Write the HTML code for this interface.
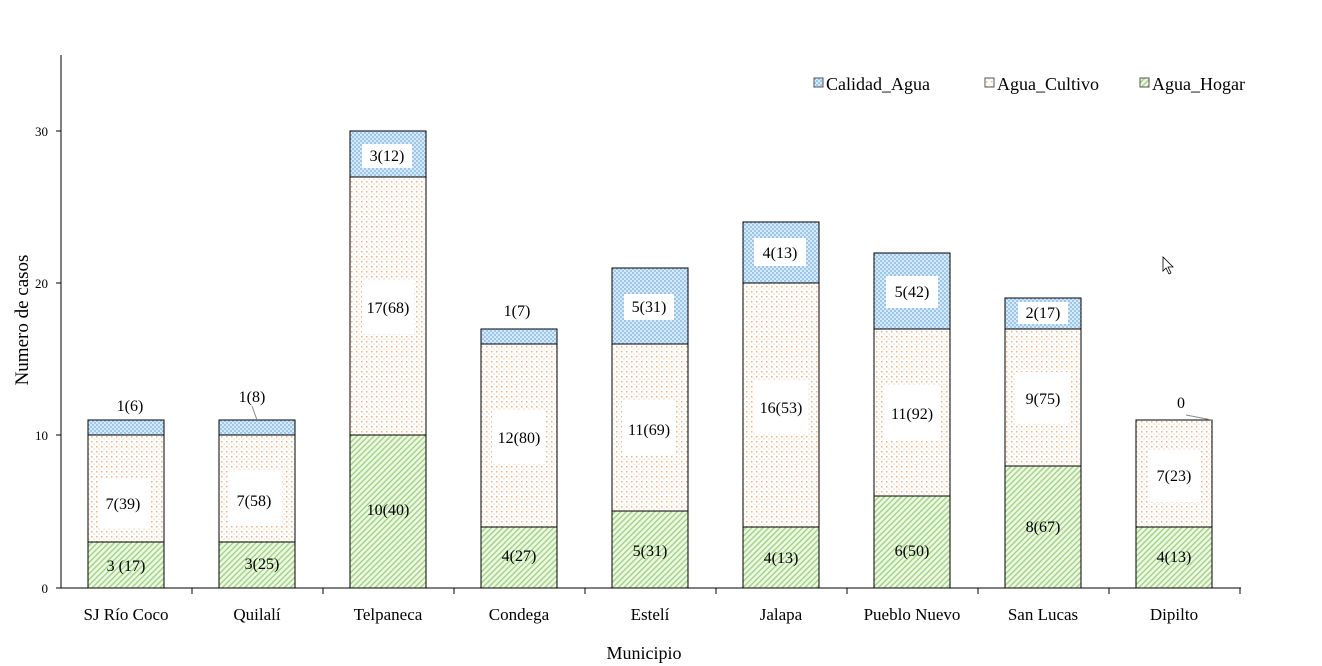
<!DOCTYPE html><html><head><style>body{margin:0;background:#fff}svg{display:block}text{font-family:"Liberation Serif",serif}</style></head><body>
<svg width="1322" height="666" viewBox="0 0 1322 666">
<defs>
<pattern id="pb" width="4" height="4" patternUnits="userSpaceOnUse"><rect width="4" height="4" fill="#d6eafa"/><rect width="2" height="2" fill="#9cc6ec"/><rect x="2" y="2" width="2" height="2" fill="#9cc6ec"/></pattern>
<pattern id="po" width="5" height="5" patternUnits="userSpaceOnUse"><rect width="5" height="5" fill="#fff"/><rect x="1" y="1" width="1.5" height="1.5" fill="#f4b080"/><rect x="3.5" y="3.5" width="1.2" height="1.2" fill="#f9d0b0"/></pattern>
<pattern id="pg" width="4" height="4" patternUnits="userSpaceOnUse" patternTransform="rotate(45)"><rect width="4" height="4" fill="#eef8e4"/><rect width="1.4" height="4" fill="#9fd483"/></pattern>
</defs>
<g stroke="#000" stroke-width="1">
<line x1="61" y1="55" x2="61" y2="588"/>
<line x1="61" y1="588" x2="1241" y2="588"/>
<line x1="56" y1="588" x2="61" y2="588"/><line x1="56" y1="435" x2="61" y2="435"/><line x1="56" y1="283" x2="61" y2="283"/><line x1="56" y1="131" x2="61" y2="131"/>
<line x1="192" y1="588" x2="192" y2="594"/><line x1="323" y1="588" x2="323" y2="594"/><line x1="454" y1="588" x2="454" y2="594"/><line x1="585" y1="588" x2="585" y2="594"/><line x1="716" y1="588" x2="716" y2="594"/><line x1="847" y1="588" x2="847" y2="594"/><line x1="978" y1="588" x2="978" y2="594"/><line x1="1109" y1="588" x2="1109" y2="594"/><line x1="1240" y1="588" x2="1240" y2="594"/>
</g>
<g font-size="13" text-anchor="end"><text x="48" y="593">0</text><text x="48" y="440">10</text><text x="48" y="288">20</text><text x="48" y="136">30</text></g>
<text transform="translate(28,320) rotate(-90)" font-size="19" text-anchor="middle">Numero de casos</text>
<text x="644" y="659" font-size="18" text-anchor="middle">Municipio</text>
<g font-size="17" text-anchor="middle">
<text x="126" y="620">SJ Río Coco</text><text x="257" y="620">Quilalí</text><text x="388" y="620">Telpaneca</text><text x="519" y="620">Condega</text><text x="650" y="620">Estelí</text><text x="781" y="620">Jalapa</text><text x="912" y="620">Pueblo Nuevo</text><text x="1043" y="620">San Lucas</text><text x="1174" y="620">Dipilto</text>
</g>
<g stroke="#000" stroke-width="1">
<rect x="88" y="542" width="76" height="46" fill="url(#pg)"/><rect x="88" y="435" width="76" height="107" fill="url(#po)"/><rect x="88" y="420" width="76" height="15" fill="url(#pb)"/>
<rect x="219" y="542" width="76" height="46" fill="url(#pg)"/><rect x="219" y="435" width="76" height="107" fill="url(#po)"/><rect x="219" y="420" width="76" height="15" fill="url(#pb)"/>
<rect x="350" y="435" width="76" height="153" fill="url(#pg)"/><rect x="350" y="177" width="76" height="258" fill="url(#po)"/><rect x="350" y="131" width="76" height="46" fill="url(#pb)"/>
<rect x="481" y="527" width="76" height="61" fill="url(#pg)"/><rect x="481" y="344" width="76" height="183" fill="url(#po)"/><rect x="481" y="329" width="76" height="15" fill="url(#pb)"/>
<rect x="612" y="511" width="76" height="77" fill="url(#pg)"/><rect x="612" y="344" width="76" height="167" fill="url(#po)"/><rect x="612" y="268" width="76" height="76" fill="url(#pb)"/>
<rect x="743" y="527" width="76" height="61" fill="url(#pg)"/><rect x="743" y="283" width="76" height="244" fill="url(#po)"/><rect x="743" y="222" width="76" height="61" fill="url(#pb)"/>
<rect x="874" y="496" width="76" height="92" fill="url(#pg)"/><rect x="874" y="329" width="76" height="167" fill="url(#po)"/><rect x="874" y="253" width="76" height="76" fill="url(#pb)"/>
<rect x="1005" y="466" width="76" height="122" fill="url(#pg)"/><rect x="1005" y="329" width="76" height="137" fill="url(#po)"/><rect x="1005" y="298" width="76" height="31" fill="url(#pb)"/>
<rect x="1136" y="527" width="76" height="61" fill="url(#pg)"/><rect x="1136" y="420" width="76" height="107" fill="url(#po)"/>
</g>
<g stroke="#888" fill="none"><line x1="252" y1="406" x2="257" y2="420"/><line x1="1186" y1="415" x2="1212" y2="420"/></g>
<g fill="#fff">
<rect x="98" y="478" width="52" height="50"/><rect x="228" y="470" width="54" height="56"/>
<rect x="362" y="280" width="52" height="54"/><rect x="492" y="410" width="54" height="54"/><rect x="622" y="400" width="54" height="56"/><rect x="754" y="380" width="54" height="54"/><rect x="884" y="386" width="56" height="54"/><rect x="1016" y="372" width="54" height="52"/><rect x="1148" y="450" width="52" height="52"/>
<rect x="362" y="144" width="50" height="24"/><rect x="624" y="294" width="50" height="26"/><rect x="754" y="238" width="52" height="28"/><rect x="886" y="276" width="52" height="32"/><rect x="1018" y="302" width="50" height="22"/>
</g>
<g font-size="16" text-anchor="middle">
<text x="126" y="571">3 (17)</text><text x="123" y="509">7(39)</text><text x="130" y="411">1(6)</text>
<text x="262" y="569">3(25)</text><text x="254" y="506">7(58)</text><text x="252" y="402">1(8)</text>
<text x="388" y="515">10(40)</text><text x="388" y="313">17(68)</text><text x="387" y="161">3(12)</text>
<text x="519" y="561">4(27)</text><text x="519" y="443">12(80)</text><text x="517" y="316">1(7)</text>
<text x="650" y="556">5(31)</text><text x="649" y="435">11(69)</text><text x="649" y="312">5(31)</text>
<text x="781" y="563">4(13)</text><text x="781" y="413">16(53)</text><text x="780" y="258">4(13)</text>
<text x="912" y="556">6(50)</text><text x="912" y="419">11(92)</text><text x="912" y="297">5(42)</text>
<text x="1043" y="532">8(67)</text><text x="1043" y="404">9(75)</text><text x="1043" y="318">2(17)</text>
<text x="1174" y="562">4(13)</text><text x="1174" y="481">7(23)</text><text x="1181" y="408">0</text>
</g>
<g stroke="#555"><rect x="814" y="78" width="9" height="9" fill="url(#pb)"/><rect x="985" y="78" width="9" height="9" fill="url(#po)"/><rect x="1140" y="78" width="9" height="9" fill="url(#pg)"/></g>
<g font-size="18"><text x="826" y="90">Calidad_Agua</text><text x="997" y="90">Agua_Cultivo</text><text x="1152" y="90">Agua_Hogar</text></g>
<polygon points="1163,257 1163,271 1166,268 1169,274 1171,273 1168,267 1173,267" fill="#fff" stroke="#000" stroke-width="0.8"/>
</svg>
</body></html>
